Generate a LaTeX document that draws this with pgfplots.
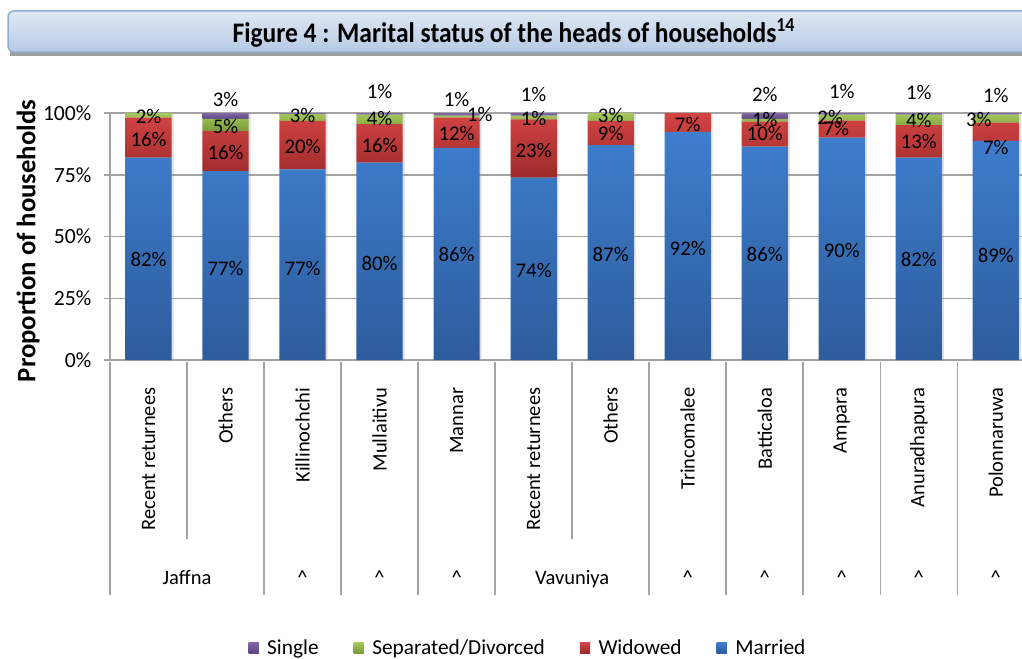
\documentclass[border=0pt]{standalone}
\usepackage{pgfplots}
\pgfplotsset{compat=1.18}
\usepackage{pgfplotstable}
\usepackage{fontspec}
\setmainfont{Carlito}
\newfontfamily\titlefont{Carlito}[FakeStretch=0.9]

\definecolor{mT}{HTML}{3E7ECE}
\definecolor{mB}{HTML}{2D5C9C}
\definecolor{wT}{HTML}{D34444}
\definecolor{wB}{HTML}{9C2A2A}
\definecolor{gT}{HTML}{A5C95C}
\definecolor{gB}{HTML}{789B39}
\definecolor{pT}{HTML}{8366A6}
\definecolor{pB}{HTML}{5E4682}
\definecolor{sepc}{HTML}{A3A3A3}
\definecolor{boxT}{HTML}{E0E8F3}
\definecolor{boxB}{HTML}{B6CAE4}
\definecolor{boxD}{HTML}{8EACD3}

\pgfplotstableread{
x married widowed separated single total
0 81.9 16.2 1.9 0 100
1 76.5 16.2 4.9 2.4 100
2 77.2 19.6 2.7 0.5 100
3 79.9 15.6 3.8 0.7 100
4 85.9 12.2 0.8 1.1 100
5 73.8 23.6 1.5 1.1 100
6 87.0 9.8 3.2 0 100
7 92.4 7.6 0 0 100
8 86.4 10.1 1.1 2.4 100
9 90.0 6.9 2.4 0.7 100
10 81.9 13.2 4.2 0.7 100
11 88.7 7.4 3.2 0.7 100
}\data

\pgfplotstableread{
x y lab
0 40.5 82
0 89.1 16
0 98.4 2
1 105.3 3
1 94.7 5
1 84.2 16
1 37.2 77
2 98.8 3
2 86.6 20
2 37.2 77
3 108.9 1
3 97.6 4
3 87.0 16
3 38.9 80
4 105.3 1
4.3 99.2 1
4 91.9 12
4 42.9 86
5 107.3 1
5 97.6 1
5 85.0 23
5 36.4 74
6 98.8 3
6 91.9 9
6 42.9 87
7 95.5 7
7 45.3 92
8 107.3 2
8 97.2 1
8 91.9 10
8 42.9 86
9 108.9 1
8.85 98.2 2
8.93 93.9 7
9 44.5 90
10 108.5 1
10 96.8 4
10 88.3 13
10 40.5 82
11 106.9 1
10.78 97.2 3
11 86.0 7
11 42.5 89
}\labels

\begin{document}
\begin{tikzpicture}
\path[use as bounding box] (0,0) rectangle (613.2pt,394.8pt);
% title banner
\fill[color=gray!75] (6pt,361.2pt) rectangle (624pt,365.4pt);
\shade[top color=boxT, bottom color=boxB, draw=boxD, line width=0.9pt, rounded corners=3.6pt]
  (4.8pt,363.6pt) rectangle (624pt,388.2pt);
\node[font=\titlefont\bfseries\fontsize{17}{20}\selectfont] at (308.4pt,375pt)
  {Figure 4 : Marital status of the heads of households\textsuperscript{14}};
% y label
\node[rotate=90, font=\bfseries\fontsize{16}{19}\selectfont] at (16.8pt,250.2pt) {Proportion of households};

% bar shadows
\begin{axis}[
  at={(66pt,178.8pt)}, anchor=south west,
  scale only axis, width=547.2pt, height=148.2pt,
  xmin=-0.5, xmax=11.34, ymin=0, ymax=100,
  clip=false, hide axis,
]
\addplot[ybar, bar width=0.6, bar shift=0.025, fill=black!13, draw=none]
  table[x=x,y=total]{\data};
\end{axis}

\begin{axis}[
  at={(66pt,178.8pt)}, anchor=south west,
  scale only axis, width=547.2pt, height=148.2pt,
  xmin=-0.5, xmax=11.34, ymin=0, ymax=100,
  clip=false,
  ybar stacked, bar width=0.6,
  axis lines*=left,
  axis line style={draw=sepc, line width=0.9pt},
  xtick={0,...,11},
  xticklabels={Recent returnees, Others, Killinochchi, Mullaitivu, Mannar, Recent returnees, Others, Trincomalee, Batticaloa, Ampara, Anuradhapura, Polonnaruwa},
  x tick style={draw=none},
  xticklabel style={rotate=90, anchor=east, font=\fontsize{12.3}{14}\selectfont},
  xticklabel shift=9.5pt,
  ytick={0,25,50,75,100},
  yticklabel={\pgfmathprintnumber{\tick}\%},
  /pgf/number format/assume math mode=true,
  yticklabel style={font=\fontsize{13}{15}\selectfont, xshift=-4pt},
  y tick style={draw=sepc, line width=0.9pt},
  tick align=outside, major tick length=3.6pt,
  ymajorgrids, major grid style={draw=sepc, line width=0.9pt},
  legend style={at={(axis description cs:0.459,-1.166)}, anchor=center, draw=none, fill=none,
    legend columns=-1, font=\fontsize{12.8}{15}\selectfont,
    /tikz/every odd column/.append style={column sep=3pt},
    /tikz/every even column/.append style={column sep=19pt}},
  legend image code/.code={\path[#1] (0pt,-3pt) rectangle (6.2pt,3.2pt);},
  reverse legend,
]
\addplot[draw=none, top color=mT, bottom color=mB] table[x=x,y=married]{\data};
\addplot[draw=none, top color=wT, bottom color=wB] table[x=x,y=widowed]{\data};
\addplot[draw=none, top color=gT, bottom color=gB] table[x=x,y=separated]{\data};
\addplot[draw=none, top color=pT, bottom color=pB] table[x=x,y=single]{\data};
\legend{Married, Widowed, Separated/Divorced, Single}
\pgfplotsinvokeforeach{-0.5,1.5,2.5,3.5,4.5,6.5,7.5,8.5,9.5,10.5}{
  \draw[draw=sepc, line width=0.9pt] (axis cs:#1,-0.8) -- (axis cs:#1,-95.1);
}
\pgfplotsinvokeforeach{0.5,5.5}{
  \draw[draw=sepc, line width=0.9pt] (axis cs:#1,-0.8) -- (axis cs:#1,-72.5);
}
\node[anchor=base, font=\fontsize{12.3}{14}\selectfont] at (axis cs:0.5,-91) {Jaffna};
\node[anchor=base, font=\fontsize{12.3}{14}\selectfont] at (axis cs:5.5,-91) {Vavuniya};
\pgfplotsinvokeforeach{2,3,4,7,8,9,10,11}{
  \node[anchor=base, font=\fontsize{12.3}{14}\selectfont] at (axis cs:#1,-91) {\textasciicircum};
}
\end{axis}

\begin{axis}[
  at={(66pt,178.8pt)}, anchor=south west,
  scale only axis, width=547.2pt, height=148.2pt,
  xmin=-0.5, xmax=11.34, ymin=0, ymax=100,
  clip=false, hide axis,
]
\addplot[only marks, mark=none, point meta=explicit symbolic,
  nodes near coords={\pgfplotspointmeta\%},
  every node near coord/.append style={anchor=center, inner sep=0pt, font=\fontsize{12.5}{14}\selectfont}]
  table[x=x,y=y,meta=lab]{\labels};
\end{axis}
\end{tikzpicture}
\end{document}
